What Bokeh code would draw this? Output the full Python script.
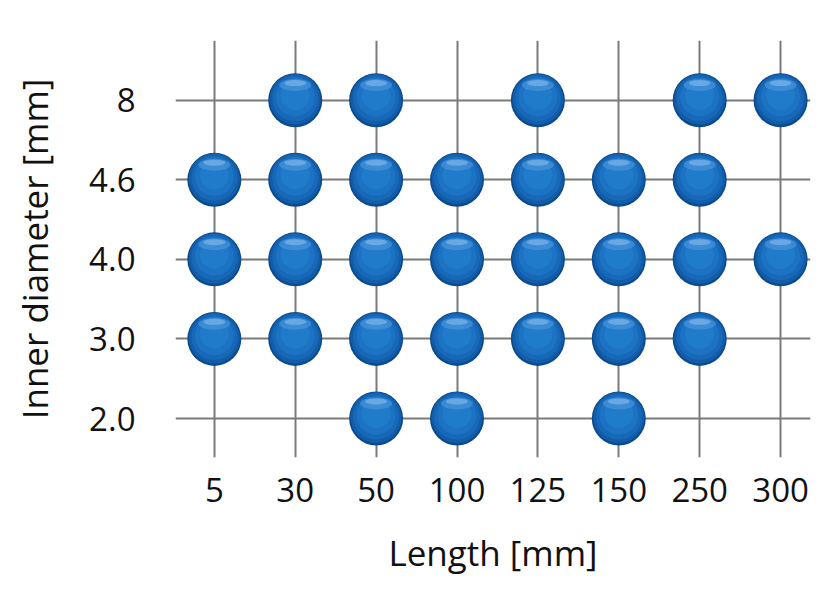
from bokeh.plotting import figure
from bokeh.models import FixedTicker, Range1d, ColumnDataSource
from bokeh.transform import dodge
from bokeh.embed import file_html
from bokeh.resources import INLINE

# Categories
lengths = ["5", "30", "50", "100", "125", "150", "250", "300"]
diameters = ["2.0", "3.0", "4.0", "4.6", "8"]

# Available combinations (length, diameter)
combos = [
    ("30", "8"), ("50", "8"), ("125", "8"), ("250", "8"), ("300", "8"),
    ("5", "4.6"), ("30", "4.6"), ("50", "4.6"), ("100", "4.6"), ("125", "4.6"), ("150", "4.6"), ("250", "4.6"),
    ("5", "4.0"), ("30", "4.0"), ("50", "4.0"), ("100", "4.0"), ("125", "4.0"), ("150", "4.0"), ("250", "4.0"), ("300", "4.0"),
    ("5", "3.0"), ("30", "3.0"), ("50", "3.0"), ("100", "3.0"), ("125", "3.0"), ("150", "3.0"), ("250", "3.0"),
    ("50", "2.0"), ("100", "2.0"), ("150", "2.0"),
]

xs = [lengths.index(c[0]) for c in combos]
ys = [diameters.index(c[1]) for c in combos]
src = ColumnDataSource(dict(x=xs, y=ys))

FONT = "Open Sans"

p = figure(width=820, height=583, output_backend="svg", toolbar_location=None,
           x_range=Range1d(-0.48, 7.37), y_range=Range1d(-0.49, 4.75),
           min_border_left=175, min_border_right=10, min_border_top=40, min_border_bottom=126)
p.outline_line_color = None
p.background_fill_color = "white"
p.border_fill_color = "white"

for ax in (p.xaxis[0], p.yaxis[0]):
    ax.axis_line_color = None
    ax.major_tick_line_color = None
    ax.minor_tick_line_color = None
    ax.major_label_text_font = FONT
    ax.major_label_text_font_size = "33px"
    ax.major_label_text_color = "#111111"
    ax.axis_label_text_font = FONT
    ax.axis_label_text_font_size = "35px"
    ax.axis_label_text_font_style = "normal"
    ax.axis_label_text_color = "#111111"

p.xaxis.ticker = FixedTicker(ticks=list(range(len(lengths))))
p.xaxis.major_label_overrides = {i: l for i, l in enumerate(lengths)}
p.yaxis.ticker = FixedTicker(ticks=list(range(len(diameters))))
p.yaxis.major_label_overrides = {i: d for i, d in enumerate(diameters)}
p.xaxis.major_label_standoff = 14
p.yaxis.major_label_standoff = 34
p.xaxis.axis_label = "Length [mm]"
p.yaxis.axis_label = "Inner diameter [mm]"
p.xaxis.axis_label_standoff = 24
p.yaxis.axis_label_standoff = 28

p.xgrid.grid_line_color = "#7a7a7a"
p.ygrid.grid_line_color = "#7a7a7a"
p.xgrid.grid_line_width = 2
p.ygrid.grid_line_width = 2

# Spheres: layered circles to imitate shading
p.scatter(x="x", y="y", size=54, fill_color="#0b4a8c", line_color=None, source=src)
p.scatter(x="x", y=dodge("y", 0.012, range=p.y_range), size=51, fill_color="#125daa", line_color=None, source=src)
p.scatter(x="x", y=dodge("y", 0.025, range=p.y_range), size=46, fill_color="#1868b8", line_color=None, source=src)
p.scatter(x="x", y=dodge("y", 0.04, range=p.y_range), size=39, fill_color="#1c72c3", line_color=None, source=src)
p.scatter(x="x", y=dodge("y", 0.06, range=p.y_range), size=29, fill_color="#217bcb", line_color=None, source=src)
# top highlight
p.ellipse(x="x", y=dodge("y", 0.19, range=p.y_range), width=32, height=12, width_units="screen",
          height_units="screen", fill_color="#4c96dc", fill_alpha=0.65, line_color=None, source=src)
p.ellipse(x="x", y=dodge("y", 0.215, range=p.y_range), width=22, height=6, width_units="screen",
          height_units="screen", fill_color="#8ec0ee", fill_alpha=0.55, line_color=None, source=src)

open("out.html", "w").write(file_html(p, INLINE))
